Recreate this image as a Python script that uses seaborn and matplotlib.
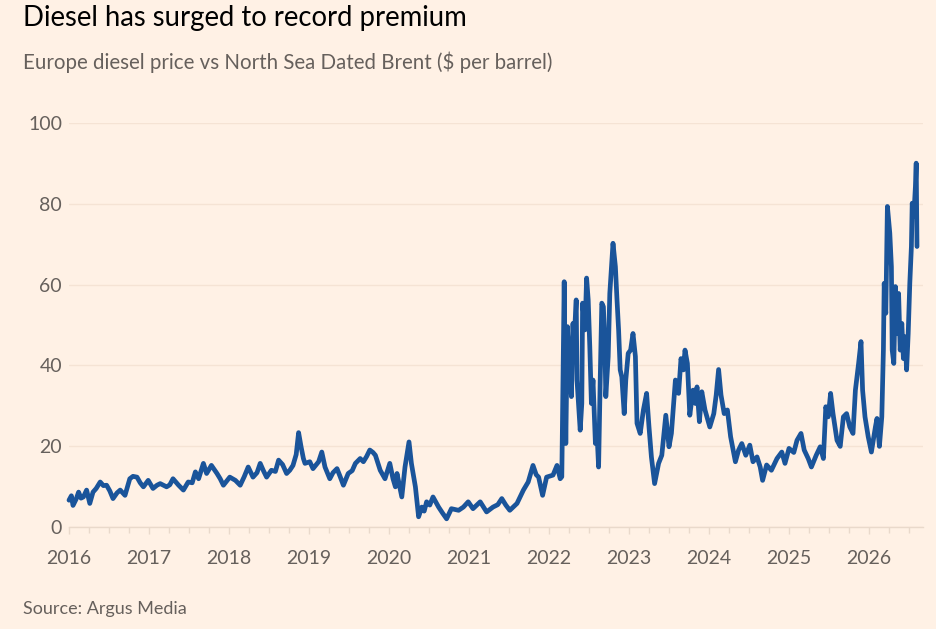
import numpy as np
import pandas as pd
import seaborn as sns
import matplotlib.pyplot as plt
from matplotlib.ticker import MultipleLocator

# decimal year / premium in $ per barrel
t = [2016.00, 2016.03, 2016.05, 2016.09, 2016.12, 2016.15, 2016.18, 2016.22, 2016.26, 2016.30,
     2016.34, 2016.39, 2016.43, 2016.47, 2016.51, 2016.55, 2016.60, 2016.64, 2016.70, 2016.76,
     2016.80, 2016.85, 2016.89, 2016.93, 2016.99, 2017.05, 2017.10, 2017.14, 2017.22, 2017.26,
     2017.30, 2017.37, 2017.43, 2017.49, 2017.54, 2017.58, 2017.62, 2017.68, 2017.72, 2017.78,
     2017.85, 2017.89, 2017.93, 2018.01, 2018.08, 2018.14, 2018.19, 2018.24, 2018.30, 2018.35,
     2018.39, 2018.43, 2018.47, 2018.53, 2018.58, 2018.62, 2018.67, 2018.72, 2018.76, 2018.80,
     2018.84, 2018.87, 2018.90, 2018.93, 2018.95, 2019.01, 2019.05, 2019.12, 2019.16, 2019.20,
     2019.26, 2019.30, 2019.35, 2019.39, 2019.43, 2019.49, 2019.54, 2019.58, 2019.64, 2019.68,
     2019.72, 2019.76, 2019.80, 2019.83, 2019.89, 2019.95, 2020.01, 2020.05, 2020.08, 2020.10,
     2020.16, 2020.20, 2020.25, 2020.28, 2020.33, 2020.37, 2020.41, 2020.44, 2020.47, 2020.51,
     2020.55, 2020.62, 2020.67, 2020.72, 2020.78, 2020.87, 2020.93, 2020.99, 2021.05, 2021.14,
     2021.22, 2021.30, 2021.36, 2021.41, 2021.46, 2021.51, 2021.60, 2021.68, 2021.74, 2021.80,
     2021.84, 2021.87, 2021.92, 2021.97, 2022.05, 2022.10, 2022.14, 2022.16, 2022.19, 2022.21,
     2022.23, 2022.26, 2022.28, 2022.30, 2022.31, 2022.34, 2022.35, 2022.39, 2022.41, 2022.42,
     2022.45, 2022.47, 2022.49, 2022.51, 2022.53, 2022.55, 2022.58, 2022.60, 2022.62, 2022.64,
     2022.66, 2022.68, 2022.70, 2022.71, 2022.74, 2022.76, 2022.80, 2022.83, 2022.85, 2022.87,
     2022.89, 2022.91, 2022.94, 2022.96, 2022.99, 2023.02, 2023.05, 2023.08, 2023.10, 2023.14,
     2023.18, 2023.22, 2023.25, 2023.28, 2023.32, 2023.37, 2023.41, 2023.46, 2023.50, 2023.53,
     2023.58, 2023.62, 2023.65, 2023.68, 2023.70, 2023.73, 2023.76, 2023.80, 2023.83, 2023.85,
     2023.88, 2023.91, 2023.95, 2024.01, 2024.06, 2024.09, 2024.12, 2024.15, 2024.19, 2024.23,
     2024.27, 2024.33, 2024.37, 2024.41, 2024.46, 2024.51, 2024.55, 2024.60, 2024.64, 2024.67,
     2024.72, 2024.78, 2024.85, 2024.91, 2024.95, 2025.00, 2025.06, 2025.10, 2025.15, 2025.19,
     2025.24, 2025.28, 2025.34, 2025.39, 2025.43, 2025.46, 2025.49, 2025.52, 2025.55, 2025.60,
     2025.64, 2025.68, 2025.72, 2025.76, 2025.80, 2025.83, 2025.87, 2025.90, 2025.92, 2025.95,
     2025.99, 2026.03, 2026.08, 2026.10, 2026.13, 2026.16, 2026.18, 2026.19, 2026.21, 2026.23,
     2026.26, 2026.28, 2026.29, 2026.31, 2026.33, 2026.35, 2026.37, 2026.39, 2026.41, 2026.43,
     2026.45, 2026.47, 2026.49, 2026.51, 2026.53, 2026.54, 2026.56, 2026.58, 2026.59, 2026.60]

premium = [6.7, 7.8, 5.4, 7.0, 8.7, 7.2, 7.5, 9.2, 5.9, 8.7,
           9.6, 11.2, 10.3, 10.4, 9.0, 7.1, 8.5, 9.2, 7.9, 12.0,
           12.6, 12.4, 11.0, 10.0, 11.6, 9.6, 10.4, 10.8, 10.0, 10.5,
           12.0, 10.4, 9.2, 11.2, 11.0, 13.7, 12.0, 15.8, 13.3, 15.3,
           13.3, 12.0, 10.4, 12.4, 11.6, 10.4, 12.5, 14.9, 12.4, 13.5,
           15.8, 14.0, 12.4, 14.1, 13.8, 16.6, 15.5, 13.3, 14.1, 15.3,
           18.0, 23.4, 20.0, 17.0, 15.8, 16.2, 14.5, 16.2, 18.6, 14.9,
           12.0, 13.5, 14.5, 12.5, 10.4, 13.3, 14.0, 15.8, 17.0, 16.2,
           17.5, 19.1, 18.5, 17.8, 14.1, 12.0, 15.8, 12.0, 10.0, 13.3,
           7.5, 14.9, 21.1, 15.8, 10.0, 2.6, 5.0, 4.0, 6.3, 5.5,
           7.5, 5.0, 3.5, 2.1, 4.6, 4.2, 5.0, 6.3, 4.6, 6.3,
           3.8, 5.0, 5.6, 7.1, 5.5, 4.2, 5.9, 9.2, 11.2, 15.3,
           13.0, 12.4, 7.9, 12.4, 12.9, 15.3, 12.0, 12.5, 60.7, 20.7,
           49.6, 38.9, 32.3, 50.4, 44.6, 56.2, 36.4, 24.0, 30.6, 55.4,
           48.8, 61.6, 56.2, 44.6, 30.6, 36.4, 20.7, 23.2, 14.9, 36.4,
           55.4, 54.5, 43.8, 32.3, 42.2, 57.8, 70.2, 64.4, 56.2, 48.8,
           38.9, 37.2, 28.1, 36.4, 43.0, 43.8, 47.9, 42.2, 25.7, 23.2,
           29.0, 33.1, 24.8, 17.4, 10.8, 15.8, 17.8, 27.7, 19.9, 23.2,
           36.4, 33.1, 41.7, 38.9, 43.8, 40.5, 27.7, 33.9, 30.6, 34.7,
           26.1, 33.5, 29.0, 24.8, 28.1, 32.7, 39.0, 32.7, 28.1, 29.0,
           22.4, 16.2, 19.1, 20.7, 17.8, 20.3, 16.2, 17.4, 14.9, 11.6,
           15.4, 14.1, 17.0, 18.6, 15.8, 19.5, 18.5, 21.5, 23.2, 19.1,
           17.0, 14.9, 17.8, 19.9, 17.0, 29.8, 27.3, 33.1, 28.1, 21.5,
           20.0, 27.3, 28.1, 24.8, 23.2, 33.9, 40.5, 45.9, 33.9, 27.3,
           22.4, 18.6, 24.8, 26.9, 20.0, 27.3, 43.8, 60.3, 52.9, 79.3,
           72.7, 64.4, 43.8, 40.5, 59.5, 47.9, 57.8, 43.8, 50.4, 41.7,
           47.1, 38.9, 47.9, 60.3, 69.4, 80.1, 76.8, 84.2, 90.0, 69.4]

year_ticks = list(range(2016, 2027))
y_ticks = [0, 20, 40, 60, 80, 100]

title = "Diesel has surged to record premium"
subtitle = "Europe diesel price vs North Sea Dated Brent ($ per barrel)"
source = "Source: Argus Media"

bg = "#FFF1E5"
grey = "#66605C"

sns.set_theme(style="white")
plt.rcParams['font.family'] = ['Lato', 'DejaVu Sans']

df = pd.DataFrame({"t": t, "premium": premium})

fig = plt.figure(figsize=(9.36, 6.29), dpi=100, facecolor=bg)
W, H = 936, 629
x0, x1, ytop, ybot = 69, 923, 122.7, 527.3
ax = fig.add_axes([x0 / W, (H - ybot) / H, (x1 - x0) / W, (ybot - ytop) / H])
ax.set_facecolor(bg)

sns.lineplot(data=df, x="t", y="premium", ax=ax, color="#1a549a", linewidth=3.4,
             sort=False, estimator=None, clip_on=False, solid_joinstyle="round")

ax.set_xlim(2016, 2016 + (x1 - x0) / 80)
ax.set_ylim(0, 100)
ax.set_xticks(year_ticks)
ax.set_xticklabels([str(y) for y in year_ticks])
ax.xaxis.set_minor_locator(MultipleLocator(0.25))
ax.set_yticks(y_ticks)
ax.set_xlabel("")
ax.set_ylabel("")

ax.grid(axis="y", color="#F5E3D4", linewidth=1)
ax.grid(axis="x", visible=False)
for s in ["top", "right", "left"]:
    ax.spines[s].set_visible(False)
ax.spines["bottom"].set_color("#E9D9CB")
ax.spines["bottom"].set_linewidth(1)

ax.tick_params(axis="x", which="major", length=5, width=1, color="#E9D9CB",
               labelsize=14, labelcolor=grey, pad=11, bottom=True)
ax.tick_params(axis="x", which="minor", length=4, width=1, color="#E9D9CB", bottom=True)
ax.tick_params(axis="y", length=0, labelsize=14, labelcolor=grey, pad=5)

fig.text(23 / W, 1 - 18 / H, title, fontsize=19.8, color="#000000", va="center", ha="left")
fig.text(23 / W, 1 - 62 / H, subtitle, fontsize=14.8, color=grey, va="center", ha="left")
fig.text(23 / W, 1 - 609 / H, source, fontsize=13, color=grey, va="center", ha="left")

fig.savefig("out.png", dpi=100, facecolor=bg)
